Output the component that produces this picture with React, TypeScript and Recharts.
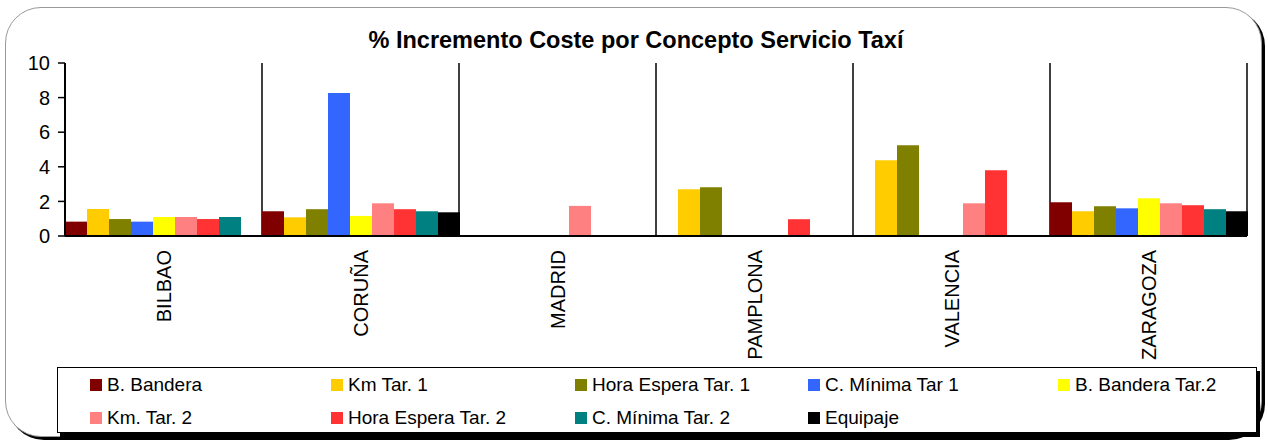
import React from 'react';
import { BarChart, Bar, XAxis, YAxis, CartesianGrid } from 'recharts';

const FONT = '"Liberation Sans", Arial, Helvetica, sans-serif';

const title = '% Incremento Coste por Concepto Servicio Taxí';
const categories = ['BILBAO', 'CORUÑA', 'MADRID', 'PAMPLONA', 'VALENCIA', 'ZARAGOZA'];
const yTicks = [0, 2, 4, 6, 8, 10];

const bBandera = [0.83, 1.43, null, null, null, 1.95];
const kmTar1 = [1.56, 1.08, null, 2.7, 4.38, 1.43];
const horaEspera1 = [0.98, 1.55, null, 2.82, 5.25, 1.72];
const cMinima1 = [0.83, 8.26, null, null, null, 1.6];
const bBandera2 = [1.1, 1.16, null, null, null, 2.18];
const kmTar2 = [1.1, 1.89, 1.74, null, 1.89, 1.89];
const horaEspera2 = [0.98, 1.55, null, 0.97, 3.8, 1.78];
const cMinima2 = [1.1, 1.43, null, null, null, 1.55];
const equipaje = [null, 1.37, null, null, null, 1.43];

const series = [
  { key: 'bBandera', name: 'B. Bandera', color: '#800000', values: bBandera },
  { key: 'kmTar1', name: 'Km Tar. 1', color: '#FFCC00', values: kmTar1 },
  { key: 'horaEspera1', name: 'Hora Espera Tar. 1', color: '#808000', values: horaEspera1 },
  { key: 'cMinima1', name: 'C. Mínima Tar 1', color: '#3366FF', values: cMinima1 },
  { key: 'bBandera2', name: 'B. Bandera Tar.2', color: '#FFFF00', values: bBandera2 },
  { key: 'kmTar2', name: 'Km. Tar. 2', color: '#FF8080', values: kmTar2 },
  { key: 'horaEspera2', name: 'Hora Espera Tar. 2', color: '#FF3333', values: horaEspera2 },
  { key: 'cMinima2', name: 'C. Mínima Tar. 2', color: '#008080', values: cMinima2 },
  { key: 'equipaje', name: 'Equipaje', color: '#000000', values: equipaje },
];

const data = categories.map((city, i) => {
  const row: any = { city };
  series.forEach((s) => {
    row[s.key] = s.values[i];
  });
  return row;
});

const CityTick = (props: any) => {
  const { x, y, payload } = props;
  const ty = y + 6;
  return (
    <text
      x={x}
      y={ty}
      transform={`rotate(-90 ${x} ${ty})`}
      textAnchor="end"
      dy="0.36em"
      fontSize={20}
      fontFamily={FONT}
      fill="#000"
    >
      {payload.value}
    </text>
  );
};

const legendCols = [90, 331, 575, 808, 1058];
const legendRows = [17.5, 51];

export default function App() {
  return (
    <div style={{ position: 'absolute', left: 0, top: 0, width: 1268, height: 441, background: '#fff', overflow: 'hidden', fontFamily: FONT }}>
      <div
        style={{
          position: 'absolute',
          left: 5,
          top: 7,
          width: 1257,
          height: 430,
          border: '1px solid #999',
          borderRadius: 36,
          boxShadow: '3px 3px 0 #000',
          boxSizing: 'border-box',
          background: '#fff',
        }}
      />
      <svg width={1268} height={441} style={{ position: 'absolute', left: 0, top: 0 }}>
        <text x={636} y={48} textAnchor="middle" fontWeight="bold" fontSize={23.5} fontFamily={FONT} fill="#000">
          {title}
        </text>
      </svg>
      <div style={{ position: 'absolute', left: 0, top: 0 }}>
        <BarChart
          width={1268}
          height={441}
          data={data}
          margin={{ top: 63, right: 21, bottom: 85, left: 0 }}
          barCategoryGap={0}
          barGap={0}
        >
          <CartesianGrid
            horizontal={false}
            vertical={true}
            stroke="#000"
            strokeWidth={1.5}
            verticalCoordinatesGenerator={({ offset }: any) =>
              categories.map((_, i) => offset.left + ((i + 1) * offset.width) / categories.length)
            }
          />
          <XAxis
            dataKey="city"
            height={120}
            axisLine={{ stroke: '#000', strokeWidth: 2 }}
            tickLine={false}
            interval={0}
            tick={<CityTick />}
          />
          <YAxis
            width={65}
            domain={[0, 10]}
            ticks={yTicks}
            interval={0}
            axisLine={{ stroke: '#000', strokeWidth: 2 }}
            tickLine={{ stroke: '#000', strokeWidth: 1.5 }}
            tickSize={7}
            tickMargin={8}
            tick={{ fontSize: 20, fill: '#000', fontFamily: FONT }}
          />
          {series.map((s) => (
            <Bar key={s.key} dataKey={s.key} name={s.name} fill={s.color} isAnimationActive={false} />
          ))}
        </BarChart>
      </div>
      <div
        style={{
          position: 'absolute',
          left: 57,
          top: 367,
          width: 1200,
          height: 66,
          border: '1px solid #000',
          boxShadow: '3px 4px 0 #000',
          boxSizing: 'border-box',
          background: '#fff',
        }}
      />
      {series.map((s, i) => {
        const col = i % 5;
        const row = Math.floor(i / 5);
        const cx = legendCols[col];
        const cy = 367 + legendRows[row];
        return (
          <div key={s.key} style={{ position: 'absolute', left: cx, top: cy - 11, height: 22, display: 'flex', alignItems: 'center', whiteSpace: 'nowrap' }}>
            <div style={{ width: 12, height: 12, background: s.color, marginRight: 5 }} />
            <span style={{ fontSize: 19, color: '#000', fontFamily: FONT, lineHeight: '22px' }}>{s.name}</span>
          </div>
        );
      })}
    </div>
  );
}
